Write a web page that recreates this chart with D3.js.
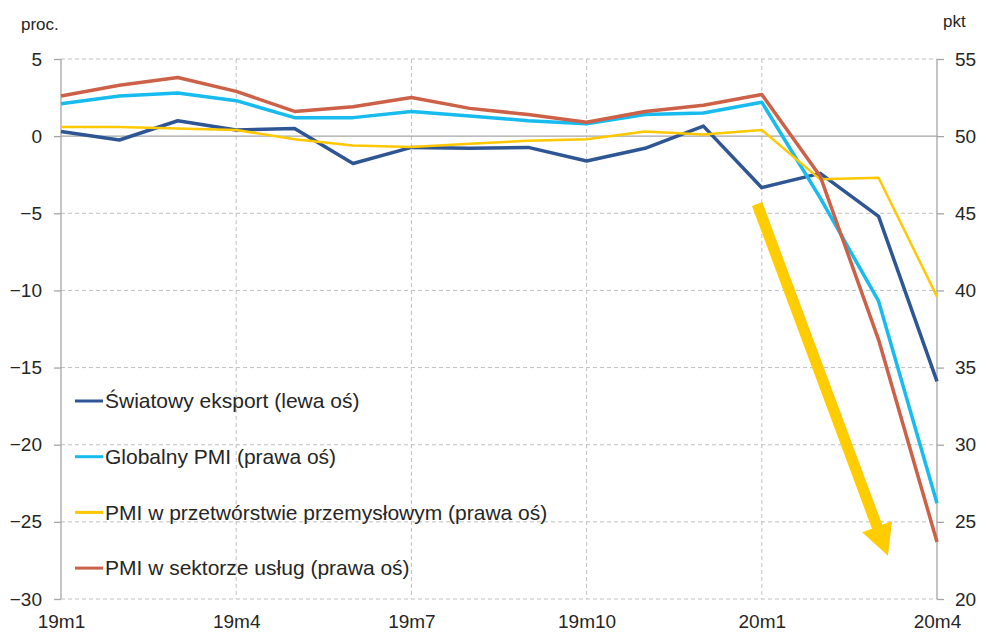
<!DOCTYPE html>
<html>
<head>
<meta charset="utf-8">
<script src="https://cdn.jsdelivr.net/npm/d3@7"></script>
<style>
	body { margin: 0; background: #fff; }
	svg { display: block; font-family: "Liberation Sans", Arial, sans-serif; }
	.grid { stroke: #c0c0c0; stroke-width: 1; stroke-dasharray: 4,3; }
	.axisline { stroke: #a6a6a6; stroke-width: 1.3; }
	.lbl { fill: #262626; font-size: 19px; }
</style>
</head>
<body>
<div id="chart"></div>
<script>
var WIDTH = 982;
var HEIGHT = 632;

var months = ['19m1','19m2','19m3','19m4','19m5','19m6','19m7','19m8','19m9','19m10','19m11','19m12','20m1','20m2','20m3','20m4'];
var monthLabels = ['19m1','19m4','19m7','19m10','20m1','20m4'];
var gridMonths = ['19m4','19m7','19m10','20m1'];

var leftTicks = [-30,-25,-20,-15,-10,-5,0,5];
var rightTicks = [20,25,30,35,40,45,50,55];

// left axis, %
var exportVals = [0.3,-0.25,1.0,0.4,0.5,-1.77,-0.73,-0.79,-0.73,-1.61,-0.79,0.65,-3.34,-2.41,-5.2,-15.9];
// right axis, pkt
var globalPmi = [52.1,52.6,52.8,52.3,51.2,51.2,51.6,51.3,51.0,50.8,51.4,51.5,52.2,46.0,39.3,26.2];
var manufPmi = [50.6,50.6,50.5,50.4,49.8,49.4,49.3,49.5,49.7,49.8,50.3,50.1,50.4,47.2,47.3,39.6];
var servPmi = [52.6,53.3,53.8,52.9,51.6,51.9,52.5,51.8,51.4,50.9,51.6,52.0,52.7,47.4,36.8,23.7];

var seriesNames = ['Światowy eksport (lewa oś)','Globalny PMI (prawa oś)','PMI w przetwórstwie przemysłowym (prawa oś)','PMI w sektorze usług (prawa oś)'];
var seriesColors = ['#2f5694','#17bbee','#ffc800','#cc6148'];

// arrow annotation: month index, left-axis value
var arrowFrom = [11.92, -4.4];
var arrowTo = [14.16, -27.2];

var plotL = 61, plotR = 937, plotT = 59, plotB = 599;

var svg = d3.select('#chart').append('svg')
	.attr('width', WIDTH)
	.attr('height', HEIGHT);

var x = d3.scalePoint().domain(months).range([plotL, plotR]);
var xi = d3.scaleLinear().domain([0, months.length-1]).range([plotL, plotR]);
var yL = d3.scaleLinear().domain([-30, 5]).range([plotB, plotT]);
var yR = d3.scaleLinear().domain([20, 55]).range([plotB, plotT]);

// gridlines
svg.append('g').selectAll('line')
	.data(leftTicks.filter(function(d) { return d !== 0; }))
	.enter().append('line')
	.attr('class', 'grid')
	.attr('x1', plotL).attr('x2', plotR)
	.attr('y1', function(d) { return yL(d); })
	.attr('y2', function(d) { return yL(d); });

svg.append('g').selectAll('line')
	.data(gridMonths)
	.enter().append('line')
	.attr('class', 'grid')
	.attr('x1', function(d) { return x(d); })
	.attr('x2', function(d) { return x(d); })
	.attr('y1', plotT).attr('y2', plotB);

// axes
var gL = svg.append('g')
	.attr('transform', 'translate('+plotL+',0)')
	.call(d3.axisLeft(yL).tickValues(leftTicks).tickSize(7).tickPadding(12).tickFormat(d3.format('d')));
var gR = svg.append('g')
	.attr('transform', 'translate('+plotR+',0)')
	.call(d3.axisRight(yR).tickValues(rightTicks).tickSize(7).tickPadding(11).tickFormat(d3.format('d')));

[gL, gR].forEach(function(g) {
	g.select('.domain').remove();
	g.attr('font-size', null).attr('font-family', null);
	g.selectAll('line').attr('stroke', '#a6a6a6').attr('stroke-width', 1.3);
	g.selectAll('text').attr('class', 'lbl').attr('fill', null);
});

svg.append('line').attr('class', 'axisline')
	.attr('x1', plotL).attr('x2', plotL).attr('y1', plotT).attr('y2', plotB);
svg.append('line').attr('class', 'axisline')
	.attr('x1', plotR).attr('x2', plotR).attr('y1', plotT).attr('y2', plotB);
svg.append('line').attr('class', 'axisline')
	.attr('x1', plotL).attr('x2', plotR).attr('y1', yL(0)).attr('y2', yL(0));

var gB = svg.append('g')
	.attr('transform', 'translate(0,'+plotB+')')
	.call(d3.axisBottom(x).tickValues(monthLabels).tickSize(0).tickPadding(16));
gB.select('.domain').remove();
gB.attr('font-size', null).attr('font-family', null);
gB.selectAll('text').attr('class', 'lbl').attr('fill', null);

// unit labels
svg.append('text').attr('class', 'lbl').attr('x', 21).attr('y', 30).style('font-size', '17px').text('proc.');
svg.append('text').attr('class', 'lbl').attr('x', 943).attr('y', 27).style('font-size', '17px').text('pkt');

// series
var series = [
	{vals: exportVals, scale: yL, width: 3.5},
	{vals: globalPmi, scale: yR, width: 3.5},
	{vals: manufPmi, scale: yR, width: 2.5},
	{vals: servPmi, scale: yR, width: 3.5}
];

series.forEach(function(s, k) {
	var line = d3.line()
		.x(function(d, i) { return x(months[i]); })
		.y(function(d) { return s.scale(d); });
	svg.append('path')
		.datum(s.vals)
		.attr('d', line)
		.attr('fill', 'none')
		.attr('stroke', seriesColors[k])
		.attr('stroke-width', s.width)
		.attr('stroke-linejoin', 'round');
});

// arrow
var ax0 = xi(arrowFrom[0]), ay0 = yL(arrowFrom[1]);
var ax1 = xi(arrowTo[0]), ay1 = yL(arrowTo[1]);
var len = Math.sqrt((ax1-ax0)*(ax1-ax0)+(ay1-ay0)*(ay1-ay0));
var ux = (ax1-ax0)/len, uy = (ay1-ay0)/len;
var px = -uy, py = ux;
var shaftW = 11, headW = 32, headL = 31;
var bx = ax1-ux*headL, by = ay1-uy*headL;
var pts = [
	[ax0+px*shaftW/2, ay0+py*shaftW/2],
	[bx+px*shaftW/2, by+py*shaftW/2],
	[bx+px*headW/2, by+py*headW/2],
	[ax1, ay1],
	[bx-px*headW/2, by-py*headW/2],
	[bx-px*shaftW/2, by-py*shaftW/2],
	[ax0-px*shaftW/2, ay0-py*shaftW/2]
];
svg.append('path')
	.attr('d', 'M'+pts.map(function(p) { return p[0]+','+p[1]; }).join('L')+'Z')
	.attr('fill', '#ffcc00');

// legend
var legend = svg.append('g').selectAll('g')
	.data(seriesNames)
	.enter().append('g')
	.attr('transform', function(d, i) { return 'translate(75,'+(401+i*55.7)+')'; });
legend.append('line')
	.attr('x1', 0).attr('x2', 28).attr('y1', 0).attr('y2', 0)
	.attr('stroke', function(d, i) { return seriesColors[i]; })
	.attr('stroke-width', 3);
legend.append('text')
	.attr('class', 'lbl')
	.attr('x', 30).attr('y', 0).attr('dy', '0.35em')
	.style('font-size', '21px')
	.text(function(d) { return d; });
</script>
</body>
</html>
